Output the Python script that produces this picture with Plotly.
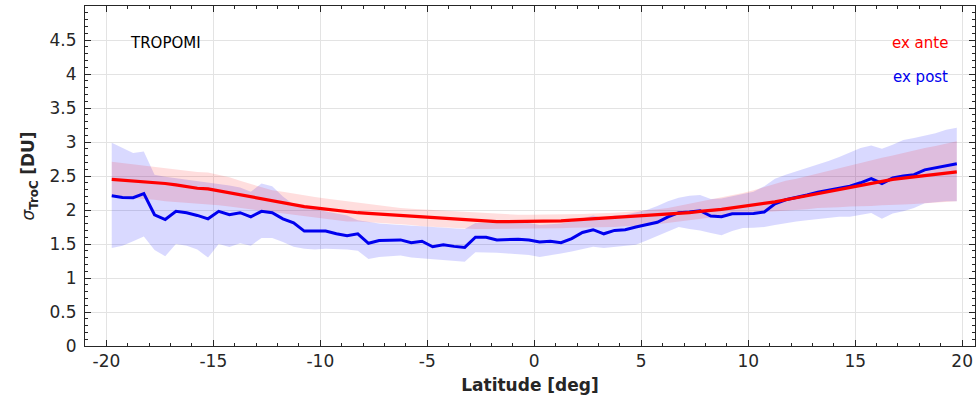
import plotly.graph_objects as go

lat = [-19.75 + 0.5 * i for i in range(80)]

ex_ante = [2.45, 2.44, 2.43, 2.42, 2.41, 2.39, 2.37, 2.34, 2.32, 2.31,
           2.28, 2.25, 2.22, 2.19, 2.16, 2.13, 2.10, 2.07, 2.05, 2.03,
           2.01, 1.99, 1.98, 1.96, 1.95, 1.94, 1.93, 1.92, 1.90, 1.89,
           1.88, 1.87, 1.86, 1.85, 1.85, 1.84, 1.83, 1.83, 1.83, 1.83,
           1.83, 1.84, 1.84, 1.85, 1.86, 1.86, 1.87, 1.88, 1.89, 1.90,
           1.91, 1.92, 1.93, 1.95, 1.96, 1.98, 1.99, 2.01, 2.03, 2.05,
           2.07, 2.10, 2.12, 2.15, 2.18, 2.21, 2.24, 2.27, 2.30, 2.34,
           2.37, 2.40, 2.42, 2.45, 2.47, 2.49, 2.51, 2.53, 2.545, 2.56]

ex_ante_hi = [2.71, 2.69, 2.67, 2.65, 2.63, 2.61, 2.59, 2.58, 2.56, 2.55,
              2.52, 2.48, 2.43, 2.38, 2.33, 2.29, 2.27, 2.24, 2.22, 2.19,
              2.17, 2.15, 2.12, 2.10, 2.08, 2.06, 2.05, 2.03, 2.02, 2.01,
              2.00, 1.99, 1.98, 1.97, 1.96, 1.95, 1.94, 1.93, 1.93, 1.93,
              1.93, 1.93, 1.93, 1.93, 1.94, 1.95, 1.95, 1.96, 1.97, 1.98,
              1.99, 2.01, 2.03, 2.06, 2.09, 2.12, 2.15, 2.18, 2.21, 2.25,
              2.29, 2.34, 2.39, 2.43, 2.46, 2.50, 2.54, 2.57, 2.61, 2.65,
              2.69, 2.73, 2.77, 2.80, 2.84, 2.87, 2.91, 2.94, 2.98, 3.01]

ex_ante_lo = [2.20, 2.19, 2.17, 2.16, 2.15, 2.13, 2.12, 2.11, 2.10, 2.09,
              2.07, 2.05, 2.03, 2.01, 1.99, 1.97, 1.94, 1.92, 1.90, 1.88,
              1.87, 1.85, 1.83, 1.83, 1.82, 1.82, 1.81, 1.80, 1.78, 1.76,
              1.75, 1.74, 1.73, 1.72, 1.72, 1.72, 1.72, 1.72, 1.72, 1.72,
              1.73, 1.73, 1.73, 1.74, 1.74, 1.74, 1.75, 1.75, 1.76, 1.76,
              1.77, 1.79, 1.81, 1.84, 1.86, 1.88, 1.90, 1.92, 1.94, 1.95,
              1.96, 1.97, 1.97, 1.98, 1.99, 2.01, 2.03, 2.03, 2.04, 2.05,
              2.05, 2.06, 2.07, 2.07, 2.08, 2.09, 2.10, 2.11, 2.12, 2.13]

ex_post = [2.21, 2.185, 2.18, 2.24, 1.93, 1.86, 1.98, 1.96, 1.92, 1.87,
           1.98, 1.93, 1.96, 1.90, 1.98, 1.96, 1.87, 1.81, 1.69, 1.69,
           1.69, 1.65, 1.62, 1.65, 1.51, 1.55, 1.56, 1.56, 1.52, 1.54,
           1.46, 1.49, 1.465, 1.45, 1.60, 1.60, 1.56, 1.57, 1.57, 1.56,
           1.53, 1.54, 1.52, 1.58, 1.67, 1.71, 1.65, 1.70, 1.71, 1.75,
           1.78, 1.82, 1.90, 1.96, 1.97, 1.99, 1.91, 1.90, 1.945, 1.945,
           1.95, 1.97, 2.09, 2.15, 2.18, 2.22, 2.26, 2.29, 2.31, 2.35,
           2.40, 2.46, 2.39, 2.47, 2.50, 2.52, 2.59, 2.62, 2.65, 2.68]

ex_post_hi = [2.99, 2.91, 2.84, 2.86, 2.52, 2.49, 2.47, 2.45, 2.43, 2.41,
              2.38, 2.36, 2.33, 2.27, 2.39, 2.35, 2.20, 2.08, 2.04, 2.01,
              1.98, 1.95, 1.92, 1.85, 1.82, 1.80, 1.79, 1.78, 1.77, 1.76,
              1.75, 1.74, 1.73, 1.72, 1.81, 1.82, 1.82, 1.81, 1.81, 1.81,
              1.78, 1.79, 1.80, 1.83, 1.88, 1.92, 1.88, 1.92, 1.93, 1.97,
              2.00, 2.06, 2.13, 2.18, 2.21, 2.22, 2.16, 2.17, 2.20, 2.24,
              2.27, 2.35, 2.46, 2.52, 2.57, 2.61, 2.66, 2.72, 2.78, 2.85,
              2.91, 2.95, 2.90, 2.96, 3.03, 3.06, 3.09, 3.13, 3.18, 3.21]

ex_post_lo = [1.44, 1.475, 1.54, 1.61, 1.41, 1.32, 1.50, 1.475, 1.42, 1.30,
              1.50, 1.455, 1.51, 1.475, 1.59, 1.59, 1.53, 1.46, 1.43, 1.42,
              1.43, 1.43, 1.42, 1.40, 1.28, 1.31, 1.32, 1.33, 1.30, 1.29,
              1.27, 1.27, 1.26, 1.24, 1.38, 1.38, 1.37, 1.36, 1.35, 1.34,
              1.31, 1.33, 1.36, 1.39, 1.43, 1.46, 1.44, 1.46, 1.47, 1.49,
              1.55, 1.62, 1.68, 1.75, 1.72, 1.70, 1.66, 1.63, 1.69, 1.735,
              1.74, 1.75, 1.78, 1.81, 1.83, 1.85, 1.87, 1.89, 1.90, 1.90,
              1.93, 1.955, 1.87, 1.95, 1.98, 2.03, 2.10, 2.12, 2.13, 2.13]

x_ticks = [-20, -15, -10, -5, 0, 5, 10, 15, 20]
x_labels = ["-20", "-15", "-10", "-5", "0", "5", "10", "15", "20"]
y_ticks = [0, 0.5, 1, 1.5, 2, 2.5, 3, 3.5, 4, 4.5]
y_labels = ["0", "0.5", "1", "1.5", "2", "2.5", "3", "3.5", "4", "4.5"]

fig = go.Figure()

# ex post band
fig.add_trace(go.Scatter(x=lat, y=ex_post_lo, mode="lines", line=dict(width=0),
                         showlegend=False, hoverinfo="skip"))
fig.add_trace(go.Scatter(x=lat, y=ex_post_hi, mode="lines", line=dict(width=0),
                         fill="tonexty", fillcolor="rgba(0,0,255,0.15)",
                         showlegend=False, hoverinfo="skip"))
# ex ante band
fig.add_trace(go.Scatter(x=lat, y=ex_ante_lo, mode="lines", line=dict(width=0),
                         showlegend=False, hoverinfo="skip"))
fig.add_trace(go.Scatter(x=lat, y=ex_ante_hi, mode="lines", line=dict(width=0),
                         fill="tonexty", fillcolor="rgba(255,0,0,0.13)",
                         showlegend=False, hoverinfo="skip"))
# lines
fig.add_trace(go.Scatter(x=lat, y=ex_post, mode="lines",
                         line=dict(color="#0000ee", width=3), name="ex post",
                         showlegend=False))
fig.add_trace(go.Scatter(x=lat, y=ex_ante, mode="lines",
                         line=dict(color="#ff0000", width=3.2), name="ex ante",
                         showlegend=False))

axis_col = "#262626"
fig.update_xaxes(range=[-21.0, 20.6], tickvals=x_ticks, ticktext=x_labels,
                 ticks="inside", ticklen=6, tickcolor=axis_col,
                 showline=True, linecolor=axis_col, linewidth=1, mirror="allticks",
                 showgrid=True, gridcolor="#e3e3e3", gridwidth=1, zeroline=False,
                 minor=dict(ticks="inside", ticklen=3, dtick=1, tickcolor=axis_col,
                            showgrid=False),
                 tickfont=dict(family="DejaVu Sans", size=17, color="#262626"),
                 title=dict(text="<b>Latitude [deg]</b>", standoff=8,
                            font=dict(family="DejaVu Sans", size=17, color="#262626")))
fig.update_yaxes(range=[0, 5.0], tickvals=y_ticks, ticktext=y_labels,
                 ticks="inside", ticklen=6, tickcolor=axis_col,
                 showline=True, linecolor=axis_col, linewidth=1, mirror="allticks",
                 showgrid=True, gridcolor="#e3e3e3", gridwidth=1, zeroline=False,
                 minor=dict(ticks="inside", ticklen=3, dtick=0.1, tickcolor=axis_col,
                            showgrid=False),
                 ticklabelstandoff=4,
                 tickfont=dict(family="DejaVu Sans", size=17, color="#262626"),
                 title=dict(text="<i>σ</i><sub><b>TroC</b></sub> <b>[DU]</b>", standoff=10,
                            font=dict(family="DejaVu Sans", size=17, color="#262626")))

fig.add_annotation(x=-18.97, y=4.46, xref="x", yref="y", text="TROPOMI",
                   showarrow=False, xanchor="left",
                   font=dict(family="DejaVu Sans", size=15, color="black"))
fig.add_annotation(x=19.44, y=4.46, xref="x", yref="y", text="ex ante",
                   showarrow=False, xanchor="right",
                   font=dict(family="DejaVu Sans", size=15, color="#ff0000"))
fig.add_annotation(x=19.44, y=3.96, xref="x", yref="y", text="ex post",
                   showarrow=False, xanchor="right",
                   font=dict(family="DejaVu Sans", size=15, color="#0000ee"))

fig.update_layout(width=978, height=401,
                  margin=dict(l=85, r=3, t=6, b=55, autoexpand=False),
                  plot_bgcolor="white", paper_bgcolor="white",
                  showlegend=False)

fig.write_html("out.html")
